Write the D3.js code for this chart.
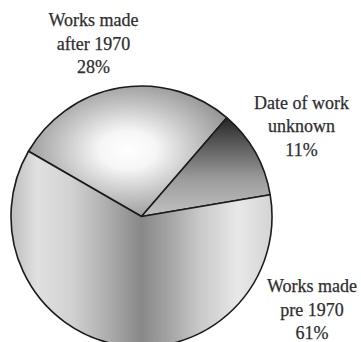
<!DOCTYPE html>
<html>
<head>
<meta charset="utf-8">
<script src="https://cdn.jsdelivr.net/npm/d3@7"></script>
<style>
  html, body { margin: 0; padding: 0; background: #fff; }
  svg { display: block; }
</style>
</head>
<body>
<svg id="chart" width="361" height="342"></svg>
<script>
// Share of works by date of making
const categories = ["Works made after 1970", "Date of work unknown", "Works made pre 1970"];
const shares = [28, 11, 61];
const labelLines = [
  ["Works made", "after 1970", "28%"],
  ["Date of work", "unknown", "11%"],
  ["Works made", "pre 1970", "61%"]
];

const cx = 141.5, cy = 216.5, R = 130.5;
const startDeg = -60;

const svg = d3.select("#chart");
const defs = svg.append("defs");

// Shading for each wedge. Coordinates are given in page space and shifted
// into the pie group's space (which is translated to the centre).
const toLocal = `translate(${-cx},${-cy})`;

const g1 = defs.append("radialGradient")
  .attr("id", "shadeAfter")
  .attr("gradientUnits", "userSpaceOnUse")
  .attr("cx", 128).attr("cy", 150).attr("r", 95)
  .attr("gradientTransform", `${toLocal} translate(128,150) scale(1.2,0.8) translate(-128,-150)`);
[[0, "#ffffff"], [0.25, "#f6f6f6"], [0.6, "#c4c4c4"], [1, "#8e8e8e"]]
  .forEach(([o, c]) => g1.append("stop").attr("offset", o).attr("stop-color", c));

const g2 = defs.append("linearGradient")
  .attr("id", "shadeUnknown")
  .attr("gradientUnits", "userSpaceOnUse")
  .attr("gradientTransform", toLocal)
  .attr("x1", 0).attr("y1", 118).attr("x2", 0).attr("y2", 212);
[[0, "#262626"], [0.3, "#5e5e5e"], [0.65, "#9c9c9c"], [1, "#bdbdbd"]]
  .forEach(([o, c]) => g2.append("stop").attr("offset", o).attr("stop-color", c));

const g3 = defs.append("linearGradient")
  .attr("id", "shadePre")
  .attr("gradientUnits", "userSpaceOnUse")
  .attr("gradientTransform", toLocal)
  .attr("x1", cx - R).attr("y1", 0).attr("x2", cx + R).attr("y2", 0);
[[0, "#bdbdbd"], [0.1, "#e0e0e0"], [0.23, "#d2d2d2"], [0.36, "#b0b0b0"], [0.5, "#888888"],
 [0.62, "#a8a8a8"], [0.72, "#c8c8c8"], [0.87, "#e8e8e8"], [1, "#d4d4d4"]]
  .forEach(([o, c]) => g3.append("stop").attr("offset", o).attr("stop-color", c));

const fills = ["url(#shadeAfter)", "url(#shadeUnknown)", "url(#shadePre)"];

const pie = d3.pie()
  .sort(null)
  .value(d => d)
  .startAngle(startDeg * Math.PI / 180)
  .endAngle(startDeg * Math.PI / 180 + 2 * Math.PI);

const arc = d3.arc().innerRadius(0).outerRadius(R);
const arcs = pie(shares);

svg.append("g")
  .attr("transform", `translate(${cx},${cy})`)
  .selectAll("path")
  .data(arcs)
  .join("path")
  .attr("d", arc)
  .attr("fill", (d, i) => fills[i])
  .attr("stroke", "#1c1c1c")
  .attr("stroke-width", 1.6)
  .attr("stroke-linejoin", "round");

// Labels
const labelPos = [
  { x: 93.5, y: 26 },
  { x: 301.5, y: 108.5 },
  { x: 312, y: 292 }
];
const lineGap = 23.5;

svg.append("g")
  .selectAll("text")
  .data(labelLines)
  .join("text")
  .attr("x", (d, i) => labelPos[i].x)
  .attr("y", (d, i) => labelPos[i].y)
  .attr("text-anchor", "middle")
  .style("font-family", "Liberation Serif")
  .style("font-size", "18px")
  .attr("fill", "#2e2e2e")
  .attr("stroke", "#2e2e2e")
  .attr("stroke-width", 0.25)
  .each(function(lines, i) {
    d3.select(this).selectAll("tspan")
      .data(lines)
      .join("tspan")
      .attr("x", labelPos[i].x)
      .attr("dy", (l, j) => j === 0 ? 0 : lineGap)
      .text(l => l);
  });
</script>
</body>
</html>
